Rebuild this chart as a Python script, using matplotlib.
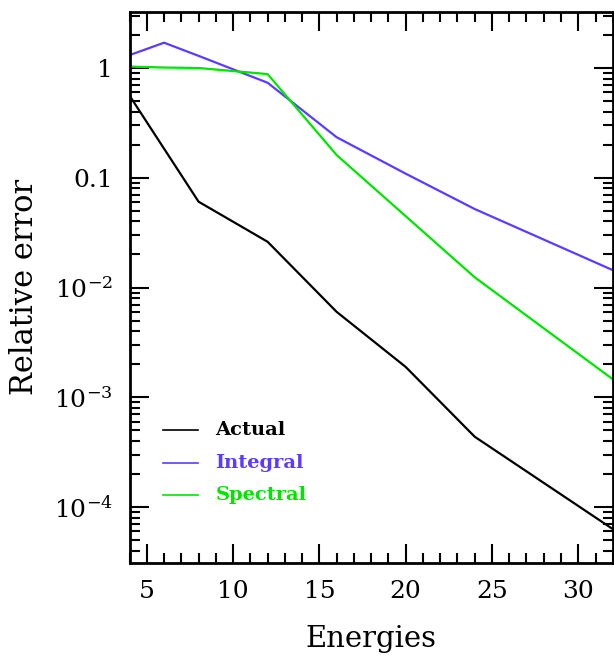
import matplotlib
matplotlib.use("Agg")
import matplotlib.pyplot as plt
import matplotlib.ticker as mticker
import math

# ── data ──
energies = [4, 6, 8, 12, 16, 20, 24, 32]
actual = [0.56, 0.184, 0.0605, 0.0261, 0.0060, 0.00189, 0.000437, 0.000063]
integral = [1.31, 1.70, 1.29, 0.734, 0.234, 0.109, 0.0519, 0.0144]
spectral = [1.03, 1.01, 1.0, 0.88, 0.161, 0.0447, 0.0124, 0.00146]

names = ["Actual", "Integral", "Spectral"]
colors = ["black", "#5a3cff", "#00e600"]
series = [actual, integral, spectral]

plt.rcParams["font.family"] = ["DejaVu Serif"]

fig = plt.figure(figsize=(6.14, 6.56), dpi=100)
ax = fig.add_axes([0.211, 0.142, 0.787, 0.840])

for vals, col in zip(series, colors):
    ax.plot(energies, vals, color=col, linewidth=1.6)

ax.set_yscale("log")
ax.set_xlim(4, 32)
ax.set_ylim(3.1e-5, 3.25)

ax.xaxis.set_major_locator(mticker.MultipleLocator(5))
ax.xaxis.set_minor_locator(mticker.MultipleLocator(1))
ax.yaxis.set_major_locator(mticker.LogLocator(base=10, numticks=10))
ax.yaxis.set_minor_locator(mticker.LogLocator(base=10, subs=range(2, 10), numticks=20))
ax.yaxis.set_minor_formatter(mticker.NullFormatter())

def ylab(v, pos):
    if v >= 1:
        return "1"
    if abs(v - 0.1) < 1e-9:
        return "0.1"
    exp = int(round(math.log10(v)))
    return r"$\mathdefault{10^{%d}}$" % exp

ax.yaxis.set_major_formatter(mticker.FuncFormatter(ylab))

ax.tick_params(which="both", direction="in", top=True, right=True, width=1.5)
ax.tick_params(which="major", length=14, labelsize=18)
ax.tick_params(axis="x", which="major", pad=12)
ax.tick_params(axis="y", which="major", pad=12)
ax.tick_params(which="minor", length=7)
for s in ax.spines.values():
    s.set_linewidth(2)

ax.set_xlabel("Energies", fontsize=21, labelpad=16)
ax.set_ylabel("Relative error", fontsize=22, labelpad=10)

# legend drawn by hand in axes coordinates
for i, (name, col) in enumerate(zip(names, colors)):
    yy = 0.241 - i * 0.059
    ax.plot([0.069, 0.141], [yy, yy], color=col, linewidth=1.2, transform=ax.transAxes)
    ax.text(0.178, yy, name, color=col, fontsize=14, fontweight="bold",
            va="center", ha="left", transform=ax.transAxes)

fig.savefig("out.png", dpi=100)
